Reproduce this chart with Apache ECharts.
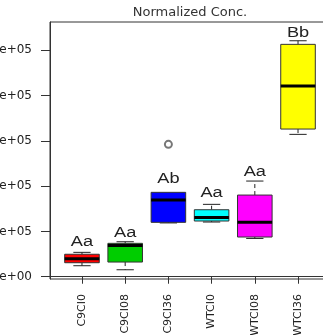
<!DOCTYPE html>
<html>
<head>
<meta charset="utf-8">
<script src="https://cdn.jsdelivr.net/npm/echarts@6/dist/echarts.min.js"></script>
<style>
html,body{margin:0;padding:0;background:#fff;}
#chart{width:323px;height:335px;}
</style>
</head>
<body>
<div id="chart"></div>
<script>
// ---- data ----
var categories = ['C9CI0', 'C9CI08', 'C9CI36', 'WTCI0', 'WTCI08', 'WTCI36'];
var whiskerLow  = [24300, 15400, 118700, 120700, 84500, 314100];
var q1          = [30900, 32400, 120000, 122900, 87600, 325800];
var median      = [39500, 69000, 169200, 130500, 120200, 420700];
var q3          = [49600, 73700, 186200, 147800, 180200, 512700];
var whiskerHigh = [53800, 77200, 186200, 159700, 211100, 520600];
var letters     = ['Aa', 'Aa', 'Ab', 'Aa', 'Aa', 'Bb'];
var letterY     = [67700, 88200, 207400, 176500, 222100, 529500];
var outlierCat  = ['C9CI36'];
var outlierVal  = [292100];
var yTickValues = [0, 100000, 200000, 300000, 400000, 500000];
var yTickLabels = ['0e+00', '1e+05', '2e+05', '3e+05', '4e+05', '5e+05'];
var titleText   = 'Normalized Conc.';

var boxColors = ['#FF0000', '#00CD00', '#0000FF', '#00FFFF', '#FF00FF', '#FFFF00'];

var boxData = categories.map(function (c, i) {
  return [i + 1, whiskerLow[i], q1[i], median[i], q3[i], whiskerHigh[i], letterY[i]];
});
var outlierData = outlierCat.map(function (c, k) {
  return [categories.indexOf(c) + 1, outlierVal[k]];
});
var xPositions = categories.map(function (c, i) { return i + 1; });

var chart = echarts.init(document.getElementById('chart'), null, {renderer: 'canvas'});

function renderBox(params, api) {
  var i = api.value(0);
  var x = api.coord([i, 0])[0];
  var unit = api.size([1, 0])[0];
  var bw = unit * 0.8, half = bw / 2, cap = bw / 4;
  var yMin = api.coord([i, api.value(1)])[1];
  var yQ1 = api.coord([i, api.value(2)])[1];
  var yMed = api.coord([i, api.value(3)])[1];
  var yQ3 = api.coord([i, api.value(4)])[1];
  var yMax = api.coord([i, api.value(5)])[1];
  var yLab = api.coord([i, api.value(6)])[1];
  var color = boxColors[params.dataIndex];
  var lineStyle = {stroke: '#222', lineWidth: 1};
  var dashStyle = {stroke: '#222', lineWidth: 1, lineDash: [4, 3]};
  var children = [];
  if (yMax < yQ3 - 0.5) {
    children.push({type: 'line', shape: {x1: x, y1: yQ3, x2: x, y2: yMax}, style: dashStyle});
    children.push({type: 'line', shape: {x1: x - cap, y1: yMax, x2: x + cap, y2: yMax}, style: lineStyle});
  }
  children.push({type: 'line', shape: {x1: x, y1: yQ1, x2: x, y2: yMin}, style: dashStyle});
  children.push({type: 'line', shape: {x1: x - cap, y1: yMin, x2: x + cap, y2: yMin}, style: lineStyle});
  children.push({type: 'rect', shape: {x: x - half, y: yQ3, width: bw, height: yQ1 - yQ3},
    style: {fill: color, stroke: '#333', lineWidth: 1}});
  children.push({type: 'line', shape: {x1: x - half, y1: yMed, x2: x + half, y2: yMed},
    style: {stroke: '#000', lineWidth: 3}});
  children.push({type: 'text', x: x, y: yLab + 3, scaleX: 1.3,
    style: {text: letters[params.dataIndex], fontSize: 14, fontFamily: 'Liberation Sans',
      fill: '#222', align: 'center', verticalAlign: 'bottom'}});
  return {type: 'group', children: children};
}

var option = {
  backgroundColor: '#ffffff',
  animation: false,
  graphic: [{
    type: 'text', x: 190, y: 6,
    style: {text: titleText, fontFamily: 'DejaVu Sans', fontSize: 13, fill: '#333',
      align: 'center', verticalAlign: 'top'}
  }],
  grid: {
    left: 50, top: 22, width: 280, height: 257,
    containLabel: false, outerBoundsMode: 'none',
    show: true, borderColor: '#333', borderWidth: 1, backgroundColor: 'transparent'
  },
  xAxis: {
    type: 'value', min: 0.26, max: 6.74,
    axisLine: {show: true, lineStyle: {color: '#333'}},
    axisTick: {show: true, length: 7, customValues: xPositions, lineStyle: {color: '#333'}},
    axisLabel: {
      show: true, customValues: xPositions, rotate: 90, margin: 15,
      fontFamily: 'DejaVu Sans', fontSize: 11, color: '#222',
      formatter: function (v) { return categories[Math.round(v) - 1] || ''; }
    },
    splitLine: {show: false}
  },
  yAxis: {
    type: 'value', min: -5000, max: 562000,
    axisLine: {show: true, lineStyle: {color: '#333'}},
    axisTick: {show: true, length: 9, customValues: yTickValues, lineStyle: {color: '#333'}},
    axisLabel: {
      show: true, customValues: yTickValues, margin: 18,
      fontFamily: 'DejaVu Sans', fontSize: 12, color: '#222',
      formatter: function (v) {
        var k = yTickValues.indexOf(v);
        return k >= 0 ? yTickLabels[k] : '';
      }
    },
    splitLine: {show: false}
  },
  series: [
    {
      type: 'custom',
      renderItem: renderBox,
      data: boxData,
      encode: {x: 0, y: [1, 2, 3, 4, 5]},
      clip: false,
      z: 2
    },
    {
      type: 'scatter',
      data: outlierData,
      symbol: 'emptyCircle',
      symbolSize: 7,
      itemStyle: {color: '#555', borderColor: '#555', borderWidth: 1},
      z: 3
    }
  ]
};
chart.setOption(option);
</script>
</body>
</html>
